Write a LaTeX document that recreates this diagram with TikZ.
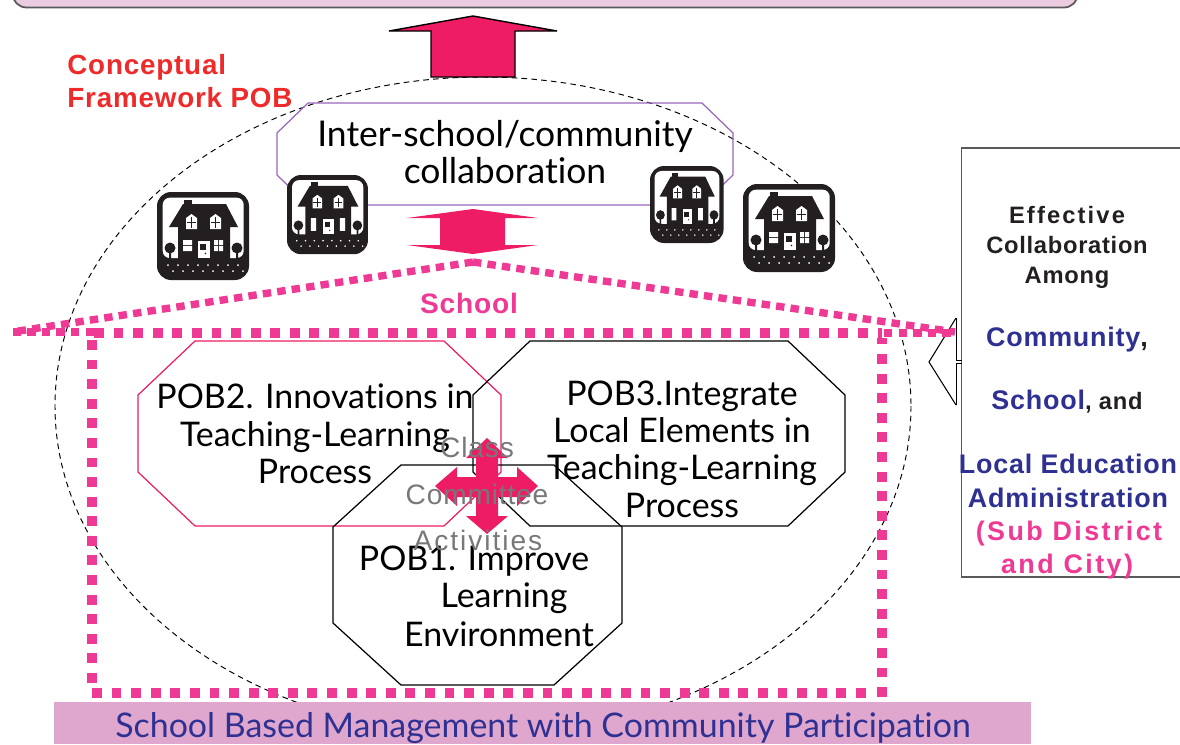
\documentclass[tikz,border=0pt]{standalone}
\usepackage{fontspec}
\setmainfont[Ligatures=NoCommon]{Lato}
\newfontfamily\labelfont[LetterSpace=3]{Liberation Sans}
\newfontfamily\widefont[LetterSpace=9]{Liberation Sans}
\newfontfamily\midfont[LetterSpace=7]{Liberation Sans}
\definecolor{hotpink}{HTML}{EE1C64}
\definecolor{dotpink}{HTML}{EE3A94}
\definecolor{barpink}{HTML}{DFA6CE}
\definecolor{toppink}{HTML}{EBCBE0}
\definecolor{navy}{HTML}{2E3192}
\definecolor{housegray}{HTML}{231F20}
\definecolor{purpleline}{HTML}{9966BB}
\definecolor{redtext}{HTML}{EE2A2A}
\definecolor{graytext}{HTML}{77787B}
\definecolor{darkline}{HTML}{58595B}
% left, top, right, bottom, corner x, corner y
\newcommand{\octbox}[7][]{
  \draw [line width=.7pt, #1] ({#2+#6},#3) -- ({#4-#6},#3) -- (#4,{#3+#7}) -- (#4,{#5-#7})
    -- ({#4-#6},#5) -- ({#2+#6},#5) -- (#2,{#5-#7}) -- (#2,{#3+#7}) -- cycle;
}
\newcommand{\housebody}{
  \fill [housegray, rounded corners=8] (0,0) rectangle (92,88);
  \fill [white, rounded corners=4] (5.7,5.7) -- (86.7,5.7) -- (86.7,66) -- (5.7,66) -- cycle;
  \fill [housegray] (27,8) rectangle (35,13);
  \fill [housegray] (26,12) -- (69,12) -- (81,35) -- (73,35) -- (73,67) -- (21,67) -- (21,35) -- (12,35) -- cycle;
  \fill [white] (29,37) -- (29,26) -- (34.5,22) -- (40,26) -- (40,37) -- cycle;
  \fill [white] (53,37) -- (53,26) -- (58.5,22) -- (64,26) -- (64,37) -- cycle;
  \draw [housegray, line width=.6] (34.5,25) -- (34.5,36) (30,30.5) -- (39,30.5);
  \draw [housegray, line width=.6] (58.5,25) -- (58.5,36) (54,30.5) -- (63,30.5);
  \fill [white] (41,49) rectangle (53,66);
  \fill [housegray] (43,52) rectangle (49,58);
  \fill [housegray] (48.5,61.5) circle (.8);
  \fill [housegray] (13,56) circle (5.5) (80,56) circle (5.5);
  \fill [housegray] (12,56) rectangle (14,67) (79,56) rectangle (81,67);
  \foreach \i in {0,...,7} {
    \fill [white] (11+\i*10,73) circle (1);
    \fill [white] (16+\i*10,79) circle (1);
  }
}
\tikzset{
  bighouse/.pic={
    \housebody
    \fill [white] (26,48) rectangle (35,53) (26,54) rectangle (35,59);
    \fill [white] (57,48) rectangle (61,53) (62,48) rectangle (66,53);
    \fill [white] (57,54) rectangle (61,59) (62,54) rectangle (66,59);
  },
  smallhouse/.pic={
    \housebody
    \fill [white] (27,48) rectangle (33,62) (60,48) rectangle (66,62);
  },
  comic/.style={align=center, font=\fontsize{19.3}{21.2}\selectfont, text=black, inner sep=0pt},
  sidetext/.style={anchor=base, inner sep=0pt, font=\labelfont\fontsize{13.5}{15}\selectfont\bfseries, text=housegray},
  bluetext/.style={anchor=base, inner sep=0pt, font=\labelfont\fontsize{15.3}{18}\selectfont\bfseries, text=navy},
  pinktext/.style={anchor=base, inner sep=0pt, font=\widefont\fontsize{15.3}{18}\selectfont\bfseries, text=dotpink},
  graylabel/.style={inner sep=0pt, text=graytext, font=\labelfont\fontsize{16}{18}\selectfont},
  roofline/.style={dotpink, line width=4.2pt, dash pattern=on 4.8pt off 3.5pt},
  wallline/.style={dotpink, line width=5.6pt, dash pattern=on 5.6pt off 5.55pt},
}
\begin{document}
\begin{tikzpicture}[x=.02cm,y=-.02cm]
  \useasboundingbox (0,0) rectangle (1180,744);
  \clip (0,0) rectangle (1180,744);

  % top bar, only its lower edge shows
  \draw [fill=toppink, draw=darkline, line width=1pt, rounded corners=8] (12.5,-40) rectangle (1078,7.5);

  % dashed circle of the framework
  \draw [dash pattern=on 3.2pt off 2.4pt, line width=.55pt] (483,406) ellipse (428 and 329);

  % the big arrow going up
  \draw [fill=hotpink, line width=.8pt] (473,16) -- (557,31) -- (515,31) -- (515,77) -- (431,77) -- (431,31) -- (389,31) -- cycle;

  \node (frame) [anchor=north west, inner sep=0pt, align=left, text=redtext, font=\labelfont\fontsize{15.8}{18.7}\selectfont\bfseries] at (67,54) {Conceptual\\Framework POB};

  % collaboration box
  \octbox[draw=purpleline]{277}{103}{733}{205}{31}{30}
  \node (collabtext) [comic, font=\fontsize{20.2}{21.2}\selectfont] at (505,152) {Inter-school/community\\collaboration};

  % houses
  \pic (h1) at (157,192) {bighouse};
  \pic (h2) [xscale=.88, yscale=.9] at (287,175) {smallhouse};
  \pic (h3) [xscale=.8, yscale=.875] at (650,166) {smallhouse};
  \pic (h4) at (743,184) {bighouse};

  % arrow between school and the others
  \fill [hotpink] (473,209) -- (538,218) -- (505,218) -- (505,245) -- (538,245) -- (473,254) -- (407,245) -- (440,245) -- (440,218) -- (407,218) -- cycle;

  % right box and its arrow
  \draw [draw=darkline, fill=white, line width=.8pt] (961.5,148) rectangle (1190,577);
  \draw [fill=white, line width=.6pt] (956,318) -- (929,362) -- (956,405);
  \draw [line width=.45pt] (956,318) -- (956,360.5) -- (962,360.5);
  \draw [line width=.45pt] (956,405) -- (956,363.5) -- (962,363.5);

  % roof and walls
  \draw [roofline] (473,262) -- (12,332);
  \draw [roofline] (473,262) -- (955,332);
  \draw [roofline] (94,332) -- (12,332);
  \draw [roofline] (884,333) -- (955,333);
  \draw [wallline] (94,333) -- (882,333);
  \draw [wallline] (882,697) -- (882,338);
  \draw [wallline] (92,340) -- (92,686);
  \draw [wallline] (92,693) -- (872,693);
  \node (school) [anchor=base, inner sep=0pt, font=\labelfont\fontsize{16}{18}\selectfont\bfseries, text=dotpink] at (469,313) {School};

  % the three POB boxes
  \octbox[draw=hotpink]{138}{341}{501}{526}{57}{54}
  \octbox{473}{341}{845}{526}{57}{54}
  \octbox{333}{465}{622}{685}{68}{62}

  \node (pob2text) [comic] at (315,434) {POB2. Innovations in\\Teaching-Learning\\Process};
  \node (pob3text) [comic] at (682,449) {POB3.Integrate\\Local Elements in\\Teaching-Learning\\Process};
  \node (pob1a) [comic] at (474,561) {POB1. Improve};
  \node (pob1b) [comic] at (504,598) {Learning};
  \node (pob1c) [comic] at (499,634) {Environment};

  % arrows in the middle
  \fill [hotpink] (487,438) -- (508,458) -- (498,458) -- (498,477) -- (517,477) -- (517,467) -- (538,486) -- (517,506) -- (517,497) -- (498,497) -- (498,516) -- (508,516) -- (487,534) -- (466,516) -- (476,516) -- (476,458) -- (476,477) -- (457,477) -- (457,467) -- (435,486) -- (457,506) -- (457,497) -- (476,497) -- (476,458) -- (466,458) -- cycle;
  \node (class) [graylabel] at (477,447) {Class};
  \node (committee) [graylabel] at (477,494) {Committee};
  \node (activities) [graylabel, font=\midfont\fontsize{16}{18}\selectfont] at (478,540) {Activities};

  % text of the right box
  \node (eff) [sidetext, font=\widefont\fontsize{13.5}{15}\selectfont\bfseries] at (1067,223) {Effective};
  \node (coll) [sidetext] at (1067,253) {Collaboration};
  \node (among) [sidetext] at (1067,283) {Among};
  \node (comm) [bluetext] at (1067,346) {Community\textcolor{housegray}{,}};
  \node (sch) [bluetext] at (1067,409) {School\textcolor{housegray}{\fontsize{13.5}{15}\selectfont, and}};
  \node (loc) [bluetext] at (1068,473) {Local Education};
  \node (adm) [bluetext] at (1068,507) {Administration};
  \node (sub) [pinktext] at (1069,540) {(Sub District};
  \node (city) [pinktext] at (1067,573) {and City)};

  % bottom bar
  \fill [barpink] (54,702) rectangle (1031,744);
  \node (sbm) [inner sep=0pt, text=navy, font=\fontsize{19.3}{21}\selectfont] at (543,728) {School Based Management with Community Participation};
\end{tikzpicture}
\end{document}
